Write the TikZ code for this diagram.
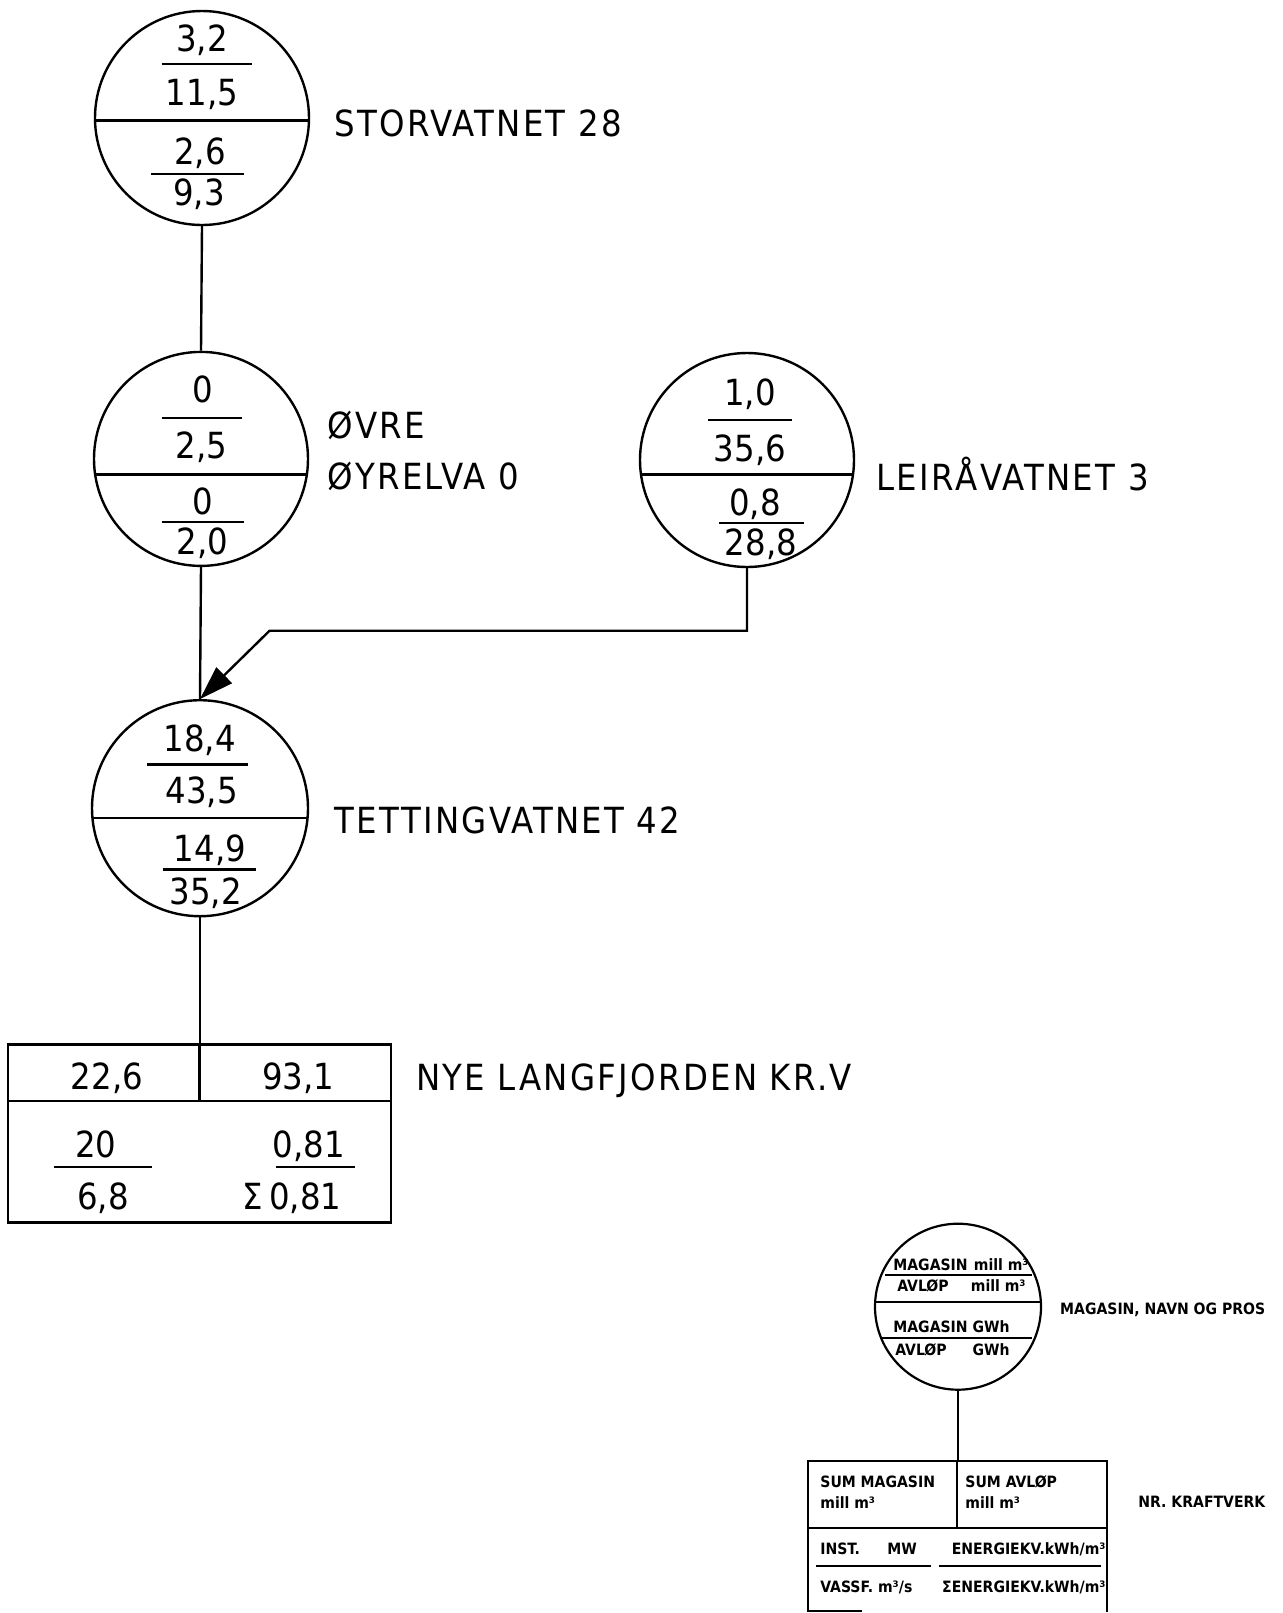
\documentclass[tikz,border=0pt]{standalone}
\usepackage{fontspec}
\setmainfont{DejaVu Sans Condensed}
\newfontfamily\legfont{DejaVu Sans Condensed Bold}
\newfontfamily\lblfont[LetterSpace=6.5]{DejaVu Sans Condensed}
\usetikzlibrary{arrows.meta}
\tikzset{
  ln/.style={line width=1.2pt},
  lake/.style={circle, draw, line width=1.2pt, inner sep=0pt, minimum size=#1},
  num/.style={font=\fontsize{18}{18}\selectfont, anchor=base, yshift=-6.5pt, inner sep=0pt},
  lbl/.style={font=\lblfont\fontsize{18}{18}\selectfont, anchor=base west, yshift=-6.5pt, inner sep=0pt},
  leg/.style={font=\legfont\fontsize{7.8}{7.8}\selectfont, anchor=base west, yshift=-2.9pt, inner sep=0pt},
  legr/.style={font=\legfont\fontsize{7.8}{7.8}\selectfont, anchor=base east, yshift=-2.9pt, inner sep=0pt},
  frac/.style={line width=1.2pt},
}
\begin{document}
\begin{tikzpicture}[x=0.5pt,y=-0.5pt]
\useasboundingbox (0,0) rectangle (1283,1613);

% ---------- STORVATNET ----------
\node[lake=107pt] (S) at (202,118) {};
\begin{scope}\clip (202,118) circle[radius=107];
\draw[ln] (0,120.4) -- (1283,120.4);\end{scope}
\node[num] (s1) at (202,38) {3,2};
\draw[frac] (161.5,63.8) -- (252,63.8);
\node[num] (s2) at (202,92.6) {11,5};
\node[num] (s3) at (200,151.2) {2,6};
\draw[frac] (151.2,173.9) -- (243.8,173.9);
\node[num] (s4) at (199,192.4) {9,3};
\node[lbl] (sl) at (334.4,123.5) {STORVATNET 28};

% ---------- OVRE OYRELVA ----------
\node[lake=107pt] (O) at (201,458.9) {};
\begin{scope}\clip (201,458.9) circle[radius=107];
\draw[ln] (0,474.3) -- (1283,474.3);\end{scope}
\node[num] (o1) at (202.7,389) {0};
\draw[frac] (161.5,417.7) -- (241.8,417.7);
\node[num] (o2) at (201.7,445.5) {2,5};
\node[num] (o3) at (202.7,501) {0};
\draw[frac] (161.5,521.7) -- (243.8,521.7);
\node[num] (o4) at (202.7,541.2) {2,0};
\node[lbl] (ol1) at (327,425) {ØVRE};
\node[lbl] (ol2) at (327,476.4) {ØYRELVA 0};

% ---------- LEIRAVATNET ----------
\node[lake=107pt] (L) at (747,460) {};
\begin{scope}\clip (747,460) circle[radius=107];
\draw[ln] (0,474.3) -- (1283,474.3);\end{scope}
\node[num] (l1) at (750,392) {1,0};
\draw[frac] (708,419.8) -- (792,419.8);
\node[num] (l2) at (750,448.6) {35,6};
\node[num] (l3) at (755,502) {0,8};
\draw[frac] (719,522.7) -- (803.6,522.7);
\node[num] (l4) at (761,542) {28,8};
\node[lbl] (ll) at (875.6,477.4) {LEIRÅVATNET 3};

% ---------- TETTINGVATNET ----------
\node[lake=108pt] (T) at (200,808.2) {};
\begin{scope}\clip (200,808.2) circle[radius=108];
\draw[ln] (0,818) -- (1283,818);\end{scope}
\node[num] (t1) at (199.6,738.7) {18,4};
\draw[frac] (147,764.5) -- (248,764.5);
\node[num] (t2) at (201.7,790.2) {43,5};
\node[num] (t3) at (210,848.8) {14,9};
\draw[frac] (162.6,869.4) -- (256.2,869.4);
\node[num] (t4) at (205.8,891) {35,2};
\node[lbl] (tl) at (334.4,820) {TETTINGVATNET 42};

% ---------- NYE LANGFJORDEN KR.V ----------
\node[draw, line width=1.2pt, minimum width=191.4pt, minimum height=89pt, inner sep=0pt] (K) at (199.6,1133.3) {};
\draw[ln] (8.2,1101) -- (391,1101);
\draw[ln] (199.6,1044.3) -- (199.6,1101);
\node[num] (k1) at (107,1076) {22,6};
\node[num] (k2) at (298.4,1076) {93,1};
\node[num] (k3) at (95.7,1144) {20};
\draw[frac] (53.5,1166.8) -- (152.3,1166.8);
\node[num] (k4) at (103,1196.6) {6,8};
\node[num] (k5) at (308.7,1144) {0,81};
\draw[frac] (275.7,1166.8) -- (355,1166.8);
\node[num] (k6) at (292,1196.6) {Σ\,0,81};
\node[lbl] (kl) at (415.7,1077.3) {NYE LANGFJORDEN KR.V};

% ---------- connectors ----------
\draw[ln] (S.south) -- (O.north);
\draw[ln] (O.south) -- (T.north);
\coordinate (b1) at (747,630.7);
\coordinate (b2) at (269.6,630.7);
\draw[ln, -{Triangle[length=17pt,width=11pt]}] (L.south) -- (b1) -- (b2) -- (T.north);
\draw[ln] (T.south) -- (T.south |- K.north);

% ---------- LEGEND ----------
\node[circle, draw, line width=1.1pt, inner sep=0pt, minimum size=83pt] (LC) at (958,1306.7) {};
\begin{scope}\clip (958,1306.7) circle[radius=83];
\draw[line width=1.1pt] (0,1301.6) -- (1283,1301.6);\end{scope}
\draw[line width=1.1pt] (885,1274.8) -- (1032,1274.8);
\draw[line width=1.1pt] (880,1337.6) -- (1032,1337.6);
\node[leg] (c1) at (893,1264.5) {MAGASIN};
\node[legr] (c2) at (1029,1264.5) {mill m³};
\node[leg] (c3) at (897,1286) {AVLØP};
\node[legr] (c4) at (1026,1286) {mill m³};
\node[leg] (c5) at (893,1327) {MAGASIN};
\node[legr] (c6) at (1010,1327) {GWh};
\node[leg] (c7) at (895,1350) {AVLØP};
\node[legr] (c8) at (1010,1350) {GWh};
\node[leg] (cl) at (1059.8,1308.8) {MAGASIN, NAVN OG PROS};

\coordinate (LKtop) at (958,1461);
\draw[line width=1.1pt] (LC.south) -- (LKtop);
\draw[line width=1.1pt] (807.7,1612) -- (807.7,1461) -- (1107,1461) -- (1107,1612);
\draw[line width=1.1pt] (807.7,1611) -- (862,1611);
\draw[line width=1.1pt] (807.7,1528) -- (1107,1528);
\draw[line width=1.1pt] (957,1461) -- (957,1528);
\node[leg] (d1) at (820,1481.6) {SUM MAGASIN};
\node[leg] (d2) at (820,1503) {mill m³};
\node[leg] (d3) at (965,1481.6) {SUM AVLØP};
\node[leg] (d4) at (965,1503) {mill m³};
\node[leg] (d5) at (820,1548.5) {INST.};
\node[leg] (d6) at (887,1548.5) {MW};
\node[legr] (d7) at (1106,1548.5) {ENERGIEKV.kWh/m³};
\draw[line width=1.1pt] (816,1566) -- (931,1566);
\draw[line width=1.1pt] (939,1566) -- (1101,1566);
\node[leg] (d8) at (820,1586.6) {VASSF. m³/s};
\node[legr] (d9) at (1106,1586.6) {ΣENERGIEKV.kWh/m³};
\node[leg] (dl) at (1138,1502) {NR. KRAFTVERK};
\end{tikzpicture}
\end{document}
